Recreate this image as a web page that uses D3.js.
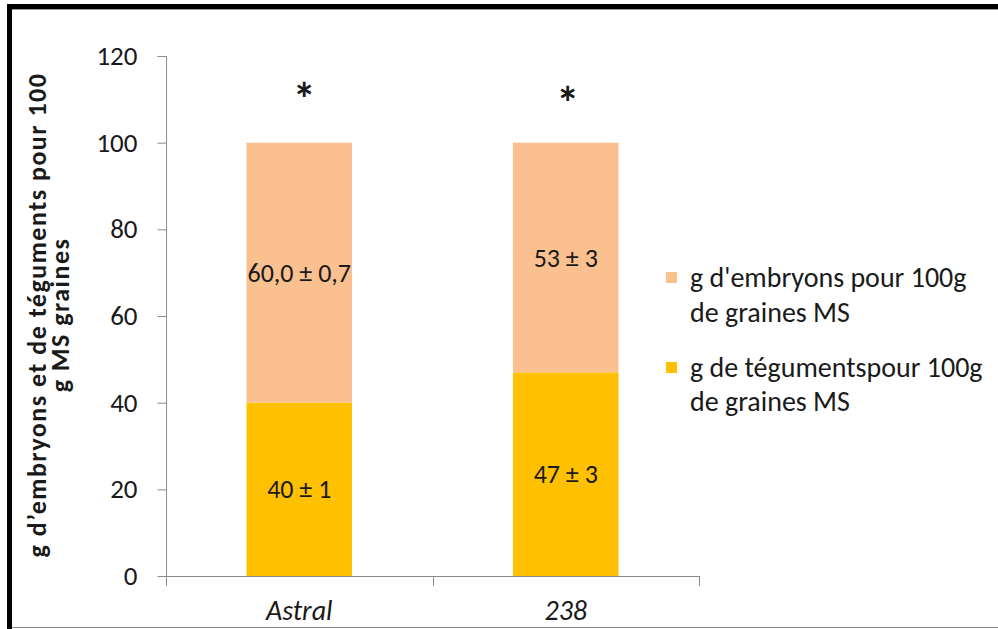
<!DOCTYPE html>
<html>
<head>
<meta charset="utf-8">
<script src="https://cdn.jsdelivr.net/npm/d3@7"></script>
<style>
  html, body { margin: 0; padding: 0; background: #fff; }
  svg { display: block; }
  text { font-family: Calibri, Carlito, Lato, "Open Sans", sans-serif; fill: #1a1a1a; }
</style>
</head>
<body>
<svg id="chart" width="998" height="629"></svg>
<script>
// Varieties on the x axis
const categories = ["Astral", "238"];
// Series (stack order bottom → top)
const seriesNames = ["g de tégumentspour 100g de graines MS", "g d'embryons pour 100g de graines MS"];
const teguments = [40, 47];
const embryons = [60, 53];
// Value labels printed inside each segment
const tegumentLabels = ["40 ± 1", "47 ± 3"];
const embryonLabels = ["60,0 ± 0,7", "53 ± 3"];
// Significance marks above each bar
const signif = ["*", "*"];
// Y axis ticks
const yTicks = [0, 20, 40, 60, 80, 100, 120];
const yTitle = ["g d’embryons et de téguments pour 100", "g MS graines"];
const legendLines = [["g d'embryons pour 100g", "de graines MS"], ["g de tégumentspour 100g", "de graines MS"]];

const colors = { teg: "#FFC000", emb: "#FAC090", axis: "#8c8c8c" };

const svg = d3.select("#chart");

// Frame around the chart
svg.append("rect").attr("x", 7).attr("y", 4).attr("width", 5).attr("height", 625).attr("fill", "#000");
svg.append("rect").attr("x", 7).attr("y", 4).attr("width", 991).attr("height", 5).attr("fill", "#000");
svg.append("line").attr("x1", 12).attr("x2", 998).attr("y1", 9.5).attr("y2", 9.5).attr("stroke", "#999");
svg.append("line").attr("x1", 12).attr("x2", 998).attr("y1", 627.5).attr("y2", 627.5).attr("stroke", "#888");

const plot = { left: 166, right: 699, top: 56, bottom: 576 };

const x = d3.scaleBand().domain(categories).range([plot.left, plot.right]).paddingInner(0.604).paddingOuter(0.302);
const y = d3.scaleLinear().domain([0, 120]).range([plot.bottom, plot.top]);

const rows = categories.map((c, i) => ({ cat: c, teg: teguments[i], emb: embryons[i] }));
const stack = d3.stack().keys(["teg", "emb"]);
const layers = stack(rows);

const g = svg.append("g");

// Stacked bars
g.selectAll("g.layer").data(layers).join("g")
  .attr("class", "layer")
  .attr("fill", d => colors[d.key])
  .selectAll("rect").data(d => d).join("rect")
  .attr("x", d => x(d.data.cat))
  .attr("width", x.bandwidth())
  .attr("y", d => y(d[1]))
  .attr("height", d => y(d[0]) - y(d[1]));

// Y axis
const yAxis = d3.axisLeft(y).tickValues(yTicks).tickSize(9).tickPadding(20).tickFormat(d3.format("d"));
const ya = svg.append("g").attr("transform", `translate(${plot.left + 0.5},0)`).call(yAxis);
ya.select(".domain").attr("stroke", colors.axis).attr("d", `M-9,${y(120) + 0.5}H0V${y(0) + 10}`);
ya.selectAll(".tick line").attr("stroke", colors.axis);
ya.selectAll(".tick text").attr("font-size", 27).attr("fill", "#1a1a1a")
  .style("font-family", "Calibri, Carlito, Lato, sans-serif");

// X axis line with ticks at category boundaries
const bounds = [plot.left, (plot.left + plot.right) / 2, plot.right];
svg.append("line").attr("x1", plot.left).attr("x2", plot.right)
  .attr("y1", y(0) + 0.5).attr("y2", y(0) + 0.5).attr("stroke", colors.axis);
svg.selectAll("line.xtick").data(bounds).join("line")
  .attr("class", "xtick")
  .attr("x1", d => Math.round(d) + 0.5).attr("x2", d => Math.round(d) + 0.5)
  .attr("y1", y(0)).attr("y2", y(0) + 10).attr("stroke", colors.axis);

// Category labels
svg.selectAll("text.cat").data(categories).join("text")
  .attr("class", "cat")
  .attr("x", d => x(d) + x.bandwidth() / 2)
  .attr("y", 620)
  .attr("text-anchor", "middle")
  .attr("font-size", 28)
  .attr("font-style", "italic")
  .text(d => d);

// Value labels inside the segments
const labelData = [];
rows.forEach((r, i) => {
  labelData.push({ cat: r.cat, v: r.teg / 2, t: tegumentLabels[i] });
  labelData.push({ cat: r.cat, v: r.teg + r.emb / 2, t: embryonLabels[i] });
});
svg.selectAll("text.val").data(labelData).join("text")
  .attr("class", "val")
  .attr("x", d => x(d.cat) + x.bandwidth() / 2)
  .attr("y", d => y(d.v))
  .attr("dy", "0.35em")
  .attr("text-anchor", "middle")
  .attr("font-size", 26)
  .text(d => d.t);

// Significance asterisks
const starLevels = [111.7, 110.8];
svg.selectAll("text.sig").data(signif).join("text")
  .attr("class", "sig")
  .attr("x", (d, i) => x(categories[i]) + x.bandwidth() / 2 + (i === 0 ? 5 : 2))
  .attr("y", (d, i) => y(starLevels[i]))
  .attr("dy", "0.5em")
  .attr("text-anchor", "middle")
  .attr("font-size", 46)
  .attr("font-weight", "bold")
  .text(d => d);

// Y axis title (two lines, rotated)
const yt = svg.append("text")
  .attr("transform", `translate(37,${(plot.top + plot.bottom) / 2 - 1}) rotate(-90)`)
  .attr("text-anchor", "middle")
  .attr("font-weight", "bold")
  .attr("font-size", 26)
  .attr("letter-spacing", 1.5);
yt.selectAll("tspan").data(yTitle).join("tspan")
  .attr("x", 0)
  .attr("dy", (d, i) => i === 0 ? "0.35em" : "0.88em")
  .text(d => d);

// Legend
const legendY = [[277, 312], [367, 401]];
const legendColors = [colors.emb, colors.teg];
const lg = svg.append("g");
legendLines.forEach((lines, i) => {
  lg.append("rect").attr("x", 666).attr("y", legendY[i][0] - 5).attr("width", 11).attr("height", 11)
    .attr("fill", legendColors[i]);
  lines.forEach((t, j) => {
    lg.append("text").attr("x", 690).attr("y", legendY[i][j]).attr("dy", "0.35em")
      .attr("font-size", 28).text(t);
  });
});
</script>
</body>
</html>
